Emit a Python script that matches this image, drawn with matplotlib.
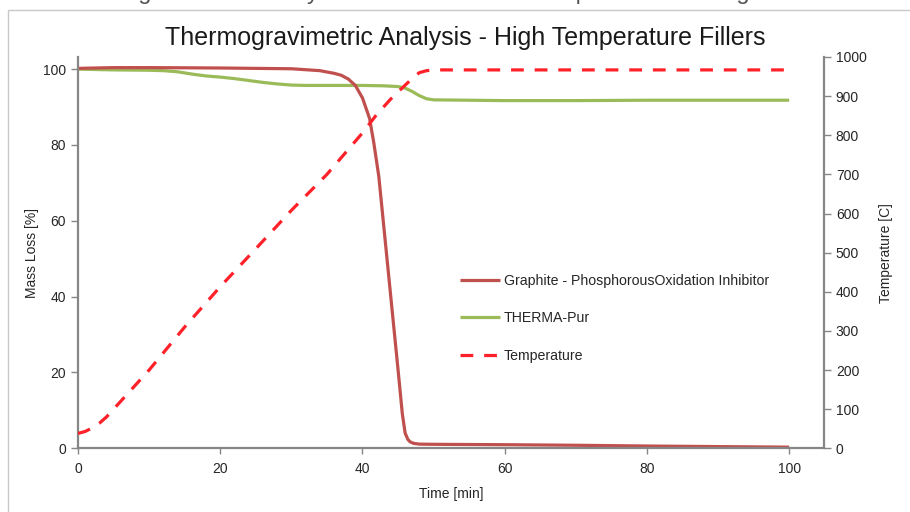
import numpy as np
import matplotlib
matplotlib.use("Agg")
import matplotlib.pyplot as plt
from matplotlib.patches import Rectangle

plt.rcParams["font.family"] = ["Liberation Sans", "DejaVu Sans"]

# --------------- DATA -------------------------------------------------------
t_graphite = [0, 5, 10, 20, 30, 34, 36, 37, 38, 39, 40, 41, 41.6, 42.3, 43,
              43.7, 44.4, 45.1, 45.6, 46, 46.4, 46.7, 47.2, 48, 50, 60, 70,
              80, 90, 100]
graphite = [100.2, 100.4, 100.4, 100.3, 100.1, 99.6, 98.9, 98.4, 97.4, 95.7,
            92.4, 87.0, 80.5, 71.7, 58.5, 45.3, 32.1, 18.9, 9.2, 4.0, 2.3,
            1.7, 1.3, 1.1, 1.05, 0.95, 0.8, 0.6, 0.45, 0.3]

t_therma = [0, 5, 10, 12, 14, 16, 18, 20, 22, 24, 26, 28, 30, 32, 35, 40, 43,
            45, 46, 47, 48, 49, 50, 55, 60, 70, 80, 90, 100]
therma = [100, 99.8, 99.7, 99.6, 99.3, 98.7, 98.2, 97.9, 97.5, 97.0, 96.5,
          96.1, 95.8, 95.7, 95.7, 95.7, 95.6, 95.4, 95.0, 94.1, 93.0, 92.2,
          91.9, 91.8, 91.7, 91.7, 91.8, 91.8, 91.8]

t_temp = [0, 1, 2, 3, 4, 6, 8, 10, 15, 20, 25, 30, 35, 40, 42, 44, 46, 47,
          48, 49, 50, 60, 70, 80, 90, 100]
temp = [38, 43, 52, 64, 80, 120, 160, 200, 310, 413, 510, 608, 700, 806, 853,
        893, 928, 945, 960, 965, 967, 967, 967, 967, 967, 967]

labels = ["Graphite - PhosphorousOxidation Inhibitor", "THERMA-Pur", "Temperature"]

# --------------- STYLE ------------------------------------------------------
c_graphite = "#c0504d"
c_therma = "#9bbb59"
c_temp = "#fe2129"
c_axis = "#868686"
c_text = "#262626"

fig = plt.figure(figsize=(9.1, 5.12), dpi=100)
fig.patch.set_facecolor("white")

# outer frame of the chart object
fig.add_artist(Rectangle((8 / 910, -0.05), 1.1, 1 - 10 / 512 + 0.05,
                         transform=fig.transFigure, fill=False,
                         edgecolor="#c8c8c8", lw=1.0))

# cut-off caption above the chart (only its lower edge is visible)
fig.text(0.5, 1.0 + 7 / 512, "Thermogravimetric Analysis of THERMA-Pur compared to existing materials",
         ha="center", va="center", fontsize=17, color="#555555")

ax = fig.add_axes([78 / 910, 1 - 448.3 / 512, (824 - 78) / 910, (448.3 - 57) / 512])
ax2 = ax.twinx()

l2, = ax.plot(t_therma, therma, color=c_therma, lw=2.3, solid_capstyle="butt")
l1, = ax.plot(t_graphite, graphite, color=c_graphite, lw=2.3,
              solid_capstyle="butt", solid_joinstyle="round")
l3, = ax2.plot(t_temp, temp, color=c_temp, lw=2.3, dashes=(4, 3.4))

ax.set_xlim(0, 104.9)
ax.set_ylim(0, 103.2)
ax2.set_ylim(0, 1000)

ax.set_xticks(np.arange(0, 101, 20))
ax.set_yticks(np.arange(0, 101, 20))
ax2.set_yticks(np.arange(0, 1001, 100))

for a in (ax, ax2):
    for s in a.spines.values():
        s.set_color(c_axis)
        s.set_linewidth(1.6)
    a.spines["top"].set_visible(False)
    a.tick_params(colors=c_axis, labelcolor=c_text, labelsize=10, width=1, length=5)
ax.spines["right"].set_visible(False)
ax2.spines["left"].set_visible(False)
ax2.spines["bottom"].set_visible(False)
ax.tick_params(axis="x", length=4, pad=6)

ax.set_xlabel("Time [min]", fontsize=10, color=c_text, labelpad=8)
ax.set_ylabel("Mass Loss [%]", fontsize=10, color=c_text, labelpad=3)
ax2.set_ylabel("Temperature [C]", fontsize=10, color=c_text, labelpad=9)

fig.text(465 / 910, 1 - 38 / 512, "Thermogravimetric Analysis - High Temperature Fillers",
         ha="center", va="center", fontsize=18, color="#1a1a1a")

leg = ax2.legend([l1, l2, l3], labels, loc="upper left",
                 bbox_to_anchor=(460 / 910, 1 - 274 / 512), bbox_transform=fig.transFigure,
                 frameon=False, fontsize=10.2, handlelength=2.8, handletextpad=0.3,
                 labelspacing=1.65, borderpad=0, borderaxespad=0)
for txt in leg.get_texts():
    txt.set_color(c_text)

fig.savefig("out.png", dpi=100, facecolor="white")
